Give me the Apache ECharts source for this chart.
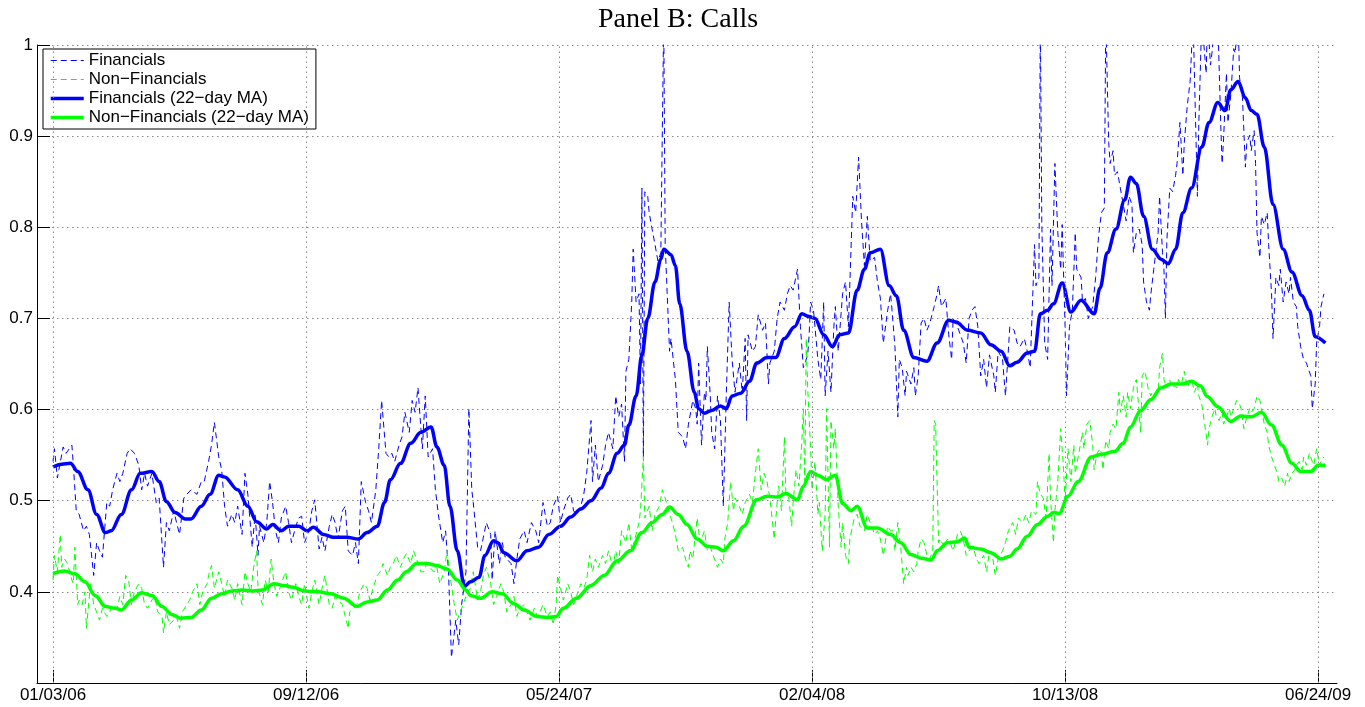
<!DOCTYPE html>
<html>
<head>
<meta charset="utf-8">
<style>
html,body{margin:0;padding:0;background:#fff;}
#chart{width:1365px;height:707px;}
</style>
<script src="https://cdn.jsdelivr.net/npm/echarts@6/dist/echarts.min.js"></script>
</head>
<body>
<div id="chart"></div>
<script>
// x = trading-day index since 01/03/06
const tickDays = [0, 174, 348, 522, 696, 870];
const tickLabels = ['01/03/06', '09/12/06', '05/24/07', '02/04/08', '10/13/08', '06/24/09'];
const yTicks = [0.4, 0.5, 0.6, 0.7, 0.8, 0.9, 1];

const finDaily = [[0,.543],[1,.557],[3,.525],[7,.559],[9,.552],[13,.561],[14,.539],[16,.489],[18,.485],[21,.467],[23,.472],[25,.463],[28,.418],[30,.454],[32,.445],[34,.438],[37,.498],[39,.494],[41,.512],[44,.530],[46,.521],[48,.530],[51,.552],[53,.557],[56,.552],[59,.539],[61,.512],[63,.530],[65,.516],[68,.530],[71,.498],[73,.503],[76,.427],[78,.476],[80,.467],[83,.489],[85,.476],[87,.463],[90,.503],[92,.507],[95,.512],[99,.507],[102,.521],[104,.521],[107,.543],[109,.561],[111,.586],[114,.548],[116,.534],[118,.494],[120,.472],[123,.485],[125,.476],[127,.494],[130,.463],[132,.530],[134,.507],[137,.449],[139,.485],[141,.440],
[142,.472],[145,.454],[147,.476],[149,.521],[151,.498],[153,.467],[155,.454],[157,.481],[160,.494],[162,.476],[164,.454],[167,.472],[169,.481],[171,.483],[173,.454],[176,.467],[178,.489],[180,.501],[183,.447],[185,.460],[187,.445],[190,.472],[192,.485],[194,.476],[196,.458],[199,.489],[201,.494],[203,.445],[206,.440],[208,.454],[210,.431],[212,.521],[215,.498],[217,.489],[219,.476],[222,.512],[224,.557],[226,.610],[229,.552],[231,.548],[233,.552],[235,.543],[238,.561],[240,.570],[242,.597],[245,.575],[247,.610],[249,.597],[251,.624],[254,.557],[256,.615],[258,.548],[261,.557],[263,.512],[265,.485],[268,.454],[270,.467],[272,.422],[274,.328],[277,.369],[279,.342],[281,.386],[284,.422],[286,.601],
[288,.512],[289,.498],[292,.449],[294,.445],[296,.460],[298,.476],[301,.463],[302,.413],[304,.467],[307,.431],[309,.454],[311,.438],[315,.431],[317,.409],[319,.436],[321,.458],[324,.467],[326,.454],[329,.476],[332,.467],[334,.454],[337,.498],[340,.472],[342,.476],[344,.494],[347,.505],[349,.476],[351,.489],[354,.503],[356,.507],[358,.489],[360,.485],[363,.494],[365,.507],[367,.530],[370,.588],[371,.521],[373,.561],[375,.521],[378,.539],[380,.561],[382,.575],[385,.557],[387,.615],[389,.592],[391,.606],[393,.543],[394,.642],[396,.655],[398,.718],[399,.776],[401,.718],[403,.727],[404,.628],[405,.843],[406,.548],[407,.839],[409,.834],[410,.816],[412,.798],[414,.781],[416,.763],[418,.772],[420,1.03],[421,.781],[424,.664],[425,.678],[428,.633],[430,.575],
[433,.570],[435,.557],[437,.584],[440,.610],[442,.601],[443,.584],[444,.651],[446,.561],[448,.619],[449,.610],[450,.669],[452,.615],[453,.575],[455,.557],[457,.615],[459,.588],[461,.494],[463,.615],[465,.718],[467,.655],[469,.619],[472,.651],[474,.619],[476,.678],[477,.588],[478,.682],[481,.664],[483,.669],[485,.704],[488,.687],[490,.695],[492,.628],[493,.651],[496,.664],[498,.700],[500,.718],[503,.709],[505,.727],[507,.736],[509,.731],[512,.754],[514,.691],[516,.646],[519,.660],[520,.682],[521,.718],[523,.709],[526,.655],[528,.633],[530,.718],[531,.615],[533,.664],[535,.619],[537,.691],[538,.713],[540,.664],[543,.727],[545,.740],[547,.691],[550,.834],[552,.816],[554,.877],[556,.807],[558,.758],[560,.812],[562,.763],[565,.767],[567,.740],[569,.722],[571,.673],[574,.709],[576,.727],
[577,.709],[579,.669],[581,.592],[582,.655],[584,.646],[586,.615],[587,.642],[590,.628],[592,.646],[593,.615],[595,.637],[597,.695],[599,.700],[601,.687],[603,.695],[606,.713],[608,.727],[609,.736],[611,.713],[614,.722],[616,.682],[618,.655],[619,.700],[622,.691],[624,.682],[626,.673],[628,.651],[630,.700],[632,.709],[634,.713],[636,.691],[638,.637],[640,.655],[642,.624],[644,.660],[647,.637],[648,.619],[650,.664],[653,.655],[655,.615],[656,.615],[658,.691],[661,.687],[663,.673],[665,.669],[668,.678],[670,.664],[672,.646],[673,.691],[675,.781],[676,.736],[678,.745],[679,1.03],[680,.803],[682,.673],[684,.655],[686,.798],[687,.736],[689,.870],[691,.794],[693,.754],[694,.803],[696,.691],[697,.615],[699,.691],[701,.709],[703,.794],[704,.754],[707,.745],[708,.718],[710,.722],[712,.700],[715,.713],[717,.745],[719,.790],
[721,.816],[723,.821],[724,1.03],[725,1.03],[726,.893],[727,.870],[729,.884],[730,.857],[732,.861],[734,.843],[737,.816],[738,.807],[740,.834],[742,.825],[743,.772],[745,.794],[747,.798],[749,.781],[750,.740],[752,.718],[754,.709],[755,.727],[757,.754],[760,.794],[761,.834],[763,.772],[764,.754],[765,.700],[766,.785],[768,.843],[770,.839],[772,.857],[773,.870],[775,.915],[777,.857],[778,.893],[780,.933],[782,.960],[784,1.03],[785,1.03],[787,.834],[788,.915],[790,1.03],[791,1.03],[793,.969],[794,1.03],[796,.978],[797,.991],[799,1.03],[801,1.03],[803,.915],[804,.870],[805,.897],[807,.969],[808,.915],[810,.946],[812,.996],[813,.991],[815,1.03],[816,.964],[818,.942],[820,.866],[821,.893],[823,.901],[824,.884],[826,.906],[827,.870],[828,.794],[830,.767],[831,.812],[833,.803],[835,.816],[836,.781],[838,.727],[839,.678],[841,.745],[843,.736],[844,.754],[846,.718],[848,.740],[850,.727],[851,.745],[853,.718],[855,.713],[856,.691],[858,.669],[860,.655],[862,.651],[863,.646],[865,.637],[866,.601],[868,.628],[869,.673],[871,.691],[872,.713],[874,.727]];

const nonFinDaily = [[0,.413],[1,.440],[3,.422],[5,.463],[6,.427],[8,.436],[10,.431],[13,.413],[14,.409],[15,.449],[17,.386],[18,.391],[20,.386],[22,.400],[23,.360],[25,.395],[26,.409],[28,.386],[30,.378],[32,.369],[34,.382],[37,.373],[39,.378],[41,.386],[44,.382],[46,.395],[48,.386],[50,.418],[52,.413],[54,.386],[56,.400],[59,.409],[61,.404],[63,.386],[65,.382],[68,.391],[70,.395],[72,.378],[75,.373],[76,.355],[78,.378],[80,.364],[83,.369],[85,.373],[87,.360],[89,.378],[92,.386],[94,.391],[96,.400],[99,.409],[101,.386],[103,.400],[106,.409],[107,.418],[109,.429],[111,.404],[114,.422],[116,.409],[118,.395],[120,.413],[123,.404],[125,.391],[127,.409],[130,.386],[132,.422],[134,.409],[136,.400],[138,.427],[140,.445],
[141,.404],[144,.386],[146,.413],[148,.400],[150,.436],[152,.409],[154,.395],[156,.404],[159,.418],[160,.422],[162,.400],[164,.391],[167,.409],[169,.395],[171,.386],[173,.409],[176,.382],[178,.400],[180,.413],[183,.386],[185,.404],[187,.418],[190,.386],[192,.382],[194,.395],[196,.391],[199,.386],[201,.373],[203,.360],[204,.378],[207,.382],[209,.386],[211,.400],[214,.409],[216,.404],[218,.391],[220,.404],[223,.418],[225,.422],[227,.431],[230,.418],[232,.427],[234,.431],[236,.440],[239,.427],[241,.436],[243,.442],[246,.431],[248,.445],[250,.436],[253,.422],[255,.422],[257,.431],[259,.427],[262,.422],[264,.427],[266,.409],[269,.422],[271,.445],[273,.418],[276,.386],[278,.369],[280,.378],[282,.386],[285,.400],
[287,.404],[289,.422],[292,.391],[294,.400],[296,.418],[298,.427],[301,.409],[303,.386],[305,.395],[308,.409],[310,.400],[312,.378],[315,.386],[317,.395],[319,.373],[321,.382],[324,.386],[326,.378],[328,.369],[331,.382],[333,.373],[335,.378],[337,.386],[340,.373],[342,.378],[344,.364],[346,.386],[347,.418],[349,.404],[351,.391],[354,.409],[356,.400],[358,.386],[360,.395],[363,.409],[365,.404],[367,.413],[369,.440],[371,.422],[373,.436],[375,.427],[378,.440],[380,.431],[382,.445],[385,.427],[387,.445],[389,.431],[391,.467],[394,.454],[396,.476],[398,.445],[401,.463],[403,.476],[404,.489],[406,.548],[407,.481],[410,.494],[412,.467],[414,.485],[417,.494],[419,.512],[421,.503],[424,.485],[426,.476],[428,.463],[430,.445],
[433,.449],[435,.436],[437,.427],[438,.445],[440,.436],[442,.467],[443,.481],[445,.454],[448,.467],[450,.445],[452,.449],[454,.440],[457,.427],[459,.436],[461,.431],[462,.458],[464,.476],[466,.521],[468,.489],[469,.503],[472,.494],[474,.485],[476,.498],[479,.507],[481,.498],[483,.530],[485,.557],[487,.512],[489,.530],[491,.521],[493,.503],[496,.458],[498,.498],[499,.516],[501,.489],[503,.570],[504,.507],[506,.503],[508,.472],[509,.498],[511,.534],[513,.516],[515,.566],[516,.601],[517,.521],[518,.678],[519,.624],[521,.557],[522,.512],[524,.543],[526,.485],[527,.498],[529,.445],[531,.485],[532,.601],[534,.449],[535,.588],[537,.557],[538,.579],[540,.494],[542,.449],[543,.476],[545,.440],[547,.431],[548,.458],[551,.481],[553,.485],[555,.472],[558,.467],[560,.485],[562,.476],[565,.463],[567,.467],[569,.458],[571,.440],[574,.472],[576,.467],
[578,.467],[579,.445],[581,.476],[583,.449],[585,.409],[587,.427],[588,.418],[590,.427],[592,.422],[594,.431],[595,.445],[597,.458],[599,.454],[601,.440],[603,.436],[605,.445],[606,.588],[607,.584],[609,.454],[610,.458],[613,.449],[615,.458],[617,.454],[619,.445],[622,.463],[624,.467],[626,.458],[628,.440],[630,.445],[633,.449],[635,.436],[637,.431],[640,.440],[642,.422],[644,.445],[646,.440],[648,.418],[650,.436],[653,.445],[655,.454],[657,.467],[660,.476],[662,.463],[664,.481],[667,.476],[669,.485],[671,.476],[673,.489],[676,.485],[677,.521],[679,.507],[681,.503],[683,.481],[685,.552],[686,.503],[688,.454],[689,.489],[691,.521],[693,.579],[695,.534],[696,.498],[698,.557],[700,.521],[702,.561],[703,.530],[705,.548],[708,.575],[709,.557],[711,.584],[713,.588],[715,.561],[716,.534],[718,.552],[720,.557],
[721,.552],[722,.534],[724,.566],[726,.557],[727,.575],[729,.584],[731,.579],[733,.619],[734,.597],[736,.615],[738,.592],[739,.619],[741,.601],[743,.624],[745,.633],[746,.615],[748,.575],[749,.637],[751,.642],[753,.624],[755,.615],[756,.619],[758,.615],[760,.619],[761,.646],[763,.662],[764,.633],[766,.624],[768,.633],[769,.624],[771,.626],[773,.624],[774,.633],[776,.628],[778,.642],[780,.624],[781,.628],[783,.633],[785,.619],[787,.628],[788,.615],[790,.606],[792,.584],[794,.561],[795,.579],[797,.592],[799,.601],[800,.592],[802,.588],[804,.597],[805,.584],[807,.592],[809,.601],[810,.592],[812,.601],[814,.610],[816,.606],[817,.601],[819,.579],[821,.592],[823,.601],[824,.597],[826,.601],[828,.615],[830,.610],[831,.601],[833,.584],[835,.575],[836,.561],[838,.548],[840,.539],[842,.530],[843,.521],[845,.525],[847,.516],[849,.530],[850,.521],[852,.530],[854,.534],[855,.539],[857,.543],[859,.534],[860,.548],[862,.539],[864,.552],[866,.543],[867,.539],[869,.557],[871,.539],[872,.543],[874,.548]];

const finMA = [[0,.537],[6,.540],[12,.541],[17,.532],[24,.512],[30,.485],[36,.465],[40,.467],[47,.485],[54,.512],[60,.530],[68,.532],[73,.521],[78,.499],[84,.487],[91,.480],[95,.480],[102,.494],[108,.507],[114,.528],[118,.526],[127,.512],[134,.494],[140,.477],[147,.469],[151,.474],[157,.467],[162,.472],[169,.472],[175,.467],[179,.471],[186,.463],[193,.460],[202,.460],[210,.458],[216,.465],[223,.472],[228,.498],[232,.523],[239,.541],[246,.563],[253,.575],[260,.581],[264,.559],[269,.539],[273,.494],[278,.445],[283,.406],[287,.411],[293,.416],[297,.440],[303,.456],[306,.454],[310,.443],[319,.434],[326,.445],[334,.449],[341,.463],[349,.472],[356,.482],[363,.491],[370,.500],[377,.514],[382,.530],[388,.552],[393,.561],[396,.583],[401,.615],[405,.660],[409,.700],[414,.740],[418,.765],[420,.776],[425,.770],[428,.758],[431,.716],[436,.664],[441,.619],[444,.601],[448,.596],[453,.599],[459,.604],[463,.601],[467,.615],[473,.618],[479,.631],[484,.651],[491,.657],[497,.657],[503,.678],[510,.691],[515,.705],[520,.702],[524,.700],[530,.682],[536,.669],[541,.682],[547,.684],[553,.731],[558,.754],[562,.772],[569,.776],[575,.736],[580,.725],[585,.687],[592,.657],[601,.653],[608,.673],[616,.698],[621,.696],[629,.687],[638,.684],[645,.671],[652,.664],[658,.648],[663,.652],[670,.662],[675,.664],[679,.705],[684,.709],[688,.716],[694,.739],[700,.707],[707,.720],[716,.705],[720,.733],[725,.772],[731,.798],[737,.830],[741,.855],[745,.848],[750,.812],[756,.776],[762,.765],[767,.760],[772,.776],[777,.816],[783,.843],[790,.888],[795,.915],[801,.937],[806,.928],[810,.951],[815,.960],[820,.942],[824,.928],[828,.924],[833,.888],[839,.825],[846,.776],[852,.751],[859,.725],[864,.709],[868,.680],[875,.673]];

const nonFinMA = [[0,.420],[8,.423],[15,.420],[22,.411],[29,.396],[36,.384],[43,.382],[47,.380],[54,.391],[61,.399],[68,.396],[75,.384],[82,.375],[88,.371],[95,.372],[102,.380],[109,.393],[116,.398],[123,.401],[130,.402],[137,.401],[144,.402],[152,.409],[159,.407],[165,.405],[173,.401],[182,.400],[191,.398],[200,.393],[209,.384],[216,.389],[223,.391],[230,.402],[237,.413],[243,.422],[250,.431],[257,.431],[264,.429],[271,.425],[278,.413],[284,.402],[287,.396],[294,.393],[302,.400],[309,.398],[317,.387],[324,.380],[333,.373],[340,.372],[346,.373],[351,.382],[360,.393],[370,.407],[379,.418],[388,.434],[397,.445],[405,.465],[412,.476],[419,.485],[424,.493],[430,.485],[436,.474],[443,.458],[450,.450],[456,.449],[461,.445],[468,.456],[475,.472],[484,.501],[491,.505],[498,.504],[504,.508],[512,.501],[516,.516],[521,.532],[526,.528],[532,.523],[538,.528],[543,.497],[549,.489],[553,.494],[560,.470],[567,.470],[576,.463],[583,.454],[590,.441],[597,.437],[604,.435],[608,.445],[615,.454],[622,.455],[627,.459],[630,.449],[638,.447],[645,.443],[652,.436],[658,.439],[663,.447],[670,.461],[677,.474],[684,.483],[688,.487],[692,.486],[698,.505],[705,.521],[714,.548],[721,.551],[730,.554],[736,.563],[741,.581],[748,.599],[755,.611],[762,.624],[769,.628],[776,.628],[783,.631],[789,.626],[794,.614],[801,.603],[810,.587],[817,.593],[824,.592],[831,.597],[838,.583],[845,.561],[852,.541],[858,.532],[865,.532],[870,.539],[875,.539]];

const seriesNames = ['Financials', 'Non\u2212Financials', 'Financials (22\u2212day MA)', 'Non\u2212Financials (22\u2212day MA)'];
const seriesColors = ['#0000ff', '#00ff00', '#0000ff', '#00ff00'];

const gridStyle = { color: '#8a8a8a', width: 1, type: [1.5, 3.5] };
const sansFont = 'Liberation Sans, Arial, sans-serif';

function dashedStyle(c) { return { color: c, width: 1, type: [6, 4] }; }
function thickStyle(c) { return { color: c, width: 3.5, type: 'solid' }; }

const chart = echarts.init(document.getElementById('chart'), null, { renderer: 'canvas' });
chart.setOption({
  animation: false,
  backgroundColor: '#fff',
  graphic: [{
    type: 'text', x: 678, y: 20, z: 10,
    style: { text: 'Panel B: Calls', font: '28px "Liberation Serif", "Times New Roman", serif', fill: '#000', textAlign: 'center', textVerticalAlign: 'middle' }
  }],
  grid: { left: 37, right: 28, top: 45, bottom: 24, containLabel: false },
  legend: {
    orient: 'vertical', left: 43, top: 49,
    padding: [3, 7, 3, 6], itemGap: 2, itemWidth: 33, itemHeight: 14,
    backgroundColor: '#fff', borderColor: '#000', borderWidth: 1, borderRadius: 0,
    selectedMode: false,
    itemStyle: { opacity: 0 },
    textStyle: { fontFamily: sansFont, fontSize: 17, color: '#000' },
    data: [
      { name: seriesNames[0], lineStyle: dashedStyle(seriesColors[0]) },
      { name: seriesNames[1], lineStyle: dashedStyle(seriesColors[1]) },
      { name: seriesNames[2], lineStyle: thickStyle(seriesColors[2]) },
      { name: seriesNames[3], lineStyle: thickStyle(seriesColors[3]) }
    ]
  },
  xAxis: {
    type: 'value', min: -11, max: 883,
    axisLine: { show: true, onZero: false, lineStyle: { color: '#000', width: 1 } },
    axisTick: { show: true, inside: true, length: 13, lineStyle: { color: '#000' }, customValues: tickDays },
    axisLabel: {
      show: true, customValues: tickDays, margin: 4, color: '#000', fontFamily: sansFont, fontSize: 17,
      formatter: v => { const i = tickDays.indexOf(Math.round(v)); return i >= 0 ? tickLabels[i] : ''; }
    },
    splitLine: { show: false }
  },
  yAxis: {
    type: 'value', min: 0.3, max: 1, interval: 0.1,
    axisLine: { show: true, onZero: false, lineStyle: { color: '#000', width: 1 } },
    axisTick: { show: true, inside: true, length: 13, lineStyle: { color: '#000' } },
    axisLabel: {
      margin: 4, color: '#000', fontFamily: sansFont, fontSize: 17,
      formatter: v => {
        if (Math.abs(v - 0.3) < 1e-6) return '';
        const hit = yTicks.find(t => Math.abs(t - v) < 1e-6);
        return hit === 1 ? '1' : hit.toFixed(1);
      }
    },
    splitLine: { show: true, lineStyle: gridStyle }
  },
  series: [
    {
      name: '__grid', type: 'line', data: [], z: 1, silent: true,
      markLine: {
        silent: true, symbol: ['none', 'none'], label: { show: false },
        lineStyle: gridStyle, animation: false,
        data: tickDays.map(d => ({ xAxis: d }))
      }
    },
    {
      name: seriesNames[0], type: 'line', data: finDaily, z: 2, showSymbol: false, clip: true,
      lineStyle: dashedStyle(seriesColors[0]), itemStyle: { color: seriesColors[0] }
    },
    {
      name: seriesNames[1], type: 'line', data: nonFinDaily, z: 2, showSymbol: false, clip: true,
      lineStyle: dashedStyle(seriesColors[1]), itemStyle: { color: seriesColors[1] }
    },
    {
      name: seriesNames[2], type: 'line', data: finMA, z: 3, showSymbol: false, clip: true,
      smooth: 0.35, smoothMonotone: 'x',
      lineStyle: thickStyle(seriesColors[2]), itemStyle: { color: seriesColors[2] }
    },
    {
      name: seriesNames[3], type: 'line', data: nonFinMA, z: 3, showSymbol: false, clip: true,
      smooth: 0.35, smoothMonotone: 'x',
      lineStyle: thickStyle(seriesColors[3]), itemStyle: { color: seriesColors[3] }
    }
  ]
});
</script>
</body>
</html>
